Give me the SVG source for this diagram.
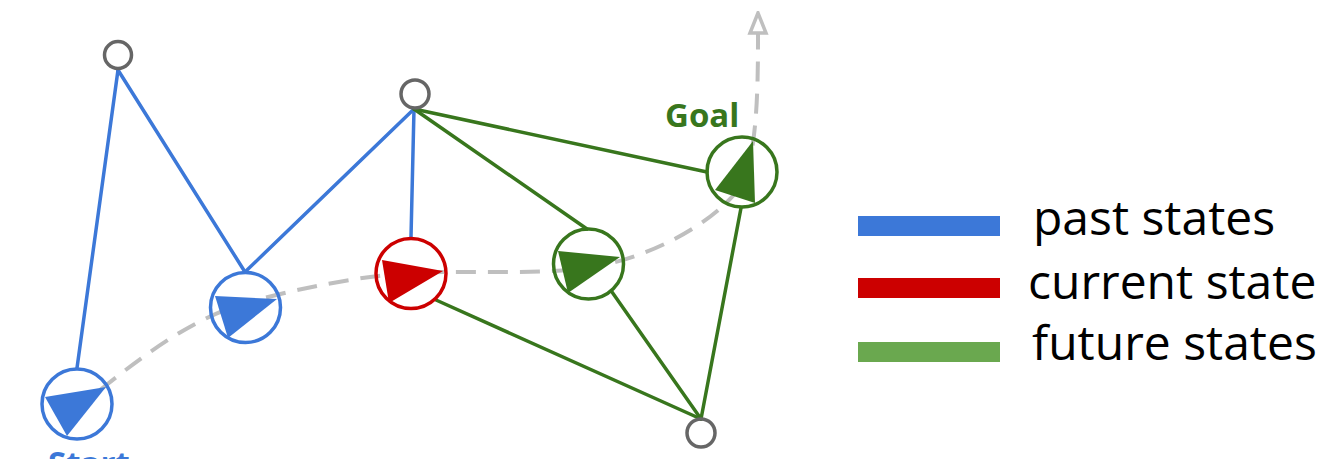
<svg xmlns="http://www.w3.org/2000/svg" width="1323" height="459" viewBox="0 0 1323 459">
<defs>
<style>
.blue{stroke:#3c78d8}
.green{stroke:#38761d}
.red{stroke:#cc0000}
.edge{stroke-width:3.5;fill:none;stroke-linecap:round}
.state{fill:none;stroke-width:3.5}
.way{fill:none;stroke:#666666;stroke-width:3.5}
.lbl{font-family:"Open Sans","Liberation Sans",sans-serif;font-weight:bold;font-size:33px}
.leg{font-family:"Open Sans","Liberation Sans",sans-serif;font-size:48px;fill:#000}
</style>
<marker id="arr" markerWidth="26" markerHeight="22" refX="4" refY="11" orient="auto" markerUnits="userSpaceOnUse" viewBox="0 0 26 22">
<path d="M24,11 L4,3 L4,19 Z" fill="#fff" stroke="#bfbfbf" stroke-width="3.5" stroke-linejoin="miter"/>
</marker>
</defs>
<rect width="1323" height="459" fill="#fff"/>
<g id="trajectory">
<path d="M100,390 C150,350 195,318 245,303 C300,288 360,276 411,273 C470,270 530,275 588,268 C650,258 710,225 738,190 C756,165 758,100 758,40" fill="none" stroke="#bfbfbf" stroke-width="4" stroke-dasharray="20 12"/>
<path d="M758,40 L758,33" fill="none" stroke="#bfbfbf" stroke-width="4" marker-end="url(#arr)"/>
</g>
<g id="connectors">
<line class="edge blue" x1="77" y1="368" x2="118" y2="70"/>
<line class="edge blue" x1="118" y1="70" x2="245" y2="272"/>
<line class="edge blue" x1="245" y1="272" x2="414" y2="109"/>
<line class="edge blue" x1="411" y1="237" x2="414" y2="109"/>
<line class="edge green" x1="414" y1="109" x2="707" y2="172"/>
<line class="edge green" x1="414" y1="109" x2="587" y2="229"/>
<line class="edge green" x1="436" y1="300" x2="701" y2="419"/>
<line class="edge green" x1="612" y1="292" x2="701" y2="419"/>
<line class="edge green" x1="741" y1="208" x2="701" y2="419"/>
</g>
<g id="waypoint1"><circle class="way" cx="118" cy="55" r="13.5"/></g>
<g id="waypoint2"><circle class="way" cx="415" cy="94" r="14"/></g>
<g id="waypoint3"><circle class="way" cx="701" cy="433" r="14"/></g>
<g id="start">
<circle class="state blue" cx="77" cy="404" r="35"/>
<polygon points="45,397 106,387 67,436" fill="#3c78d8"/>
<text class="lbl" x="48" y="475" fill="#3c78d8">Start</text>
</g>
<g id="past2">
<circle class="state blue" cx="245.5" cy="307.5" r="35"/>
<polygon points="215,296 277,299 228,338" fill="#3c78d8"/>
</g>
<g id="current">
<circle class="state red" cx="411" cy="273.5" r="35"/>
<polygon points="382,260 443,271 389,303" fill="#cc0000"/>
</g>
<g id="future1">
<circle class="state green" cx="588.5" cy="264" r="35"/>
<polygon points="558,251 620,257 568,293" fill="#38761d"/>
</g>
<g id="goal">
<circle class="state green" cx="742" cy="172" r="35"/>
<polygon points="753,141 755,203 715,190" fill="#38761d"/>
<text class="lbl" x="665" y="127" fill="#38761d">Goal</text>
</g>
<g id="legend">
<rect x="858" y="216" width="142" height="20" fill="#3c78d8"/>
<rect x="858" y="278" width="142" height="20" fill="#cc0000"/>
<rect x="858" y="342" width="142" height="20" fill="#6aa84f"/>
<text class="leg" x="1033" y="235">past states</text>
<text class="leg" x="1028" y="299">current state</text>
<text class="leg" x="1032" y="360">future states</text>
</g>
</svg>
